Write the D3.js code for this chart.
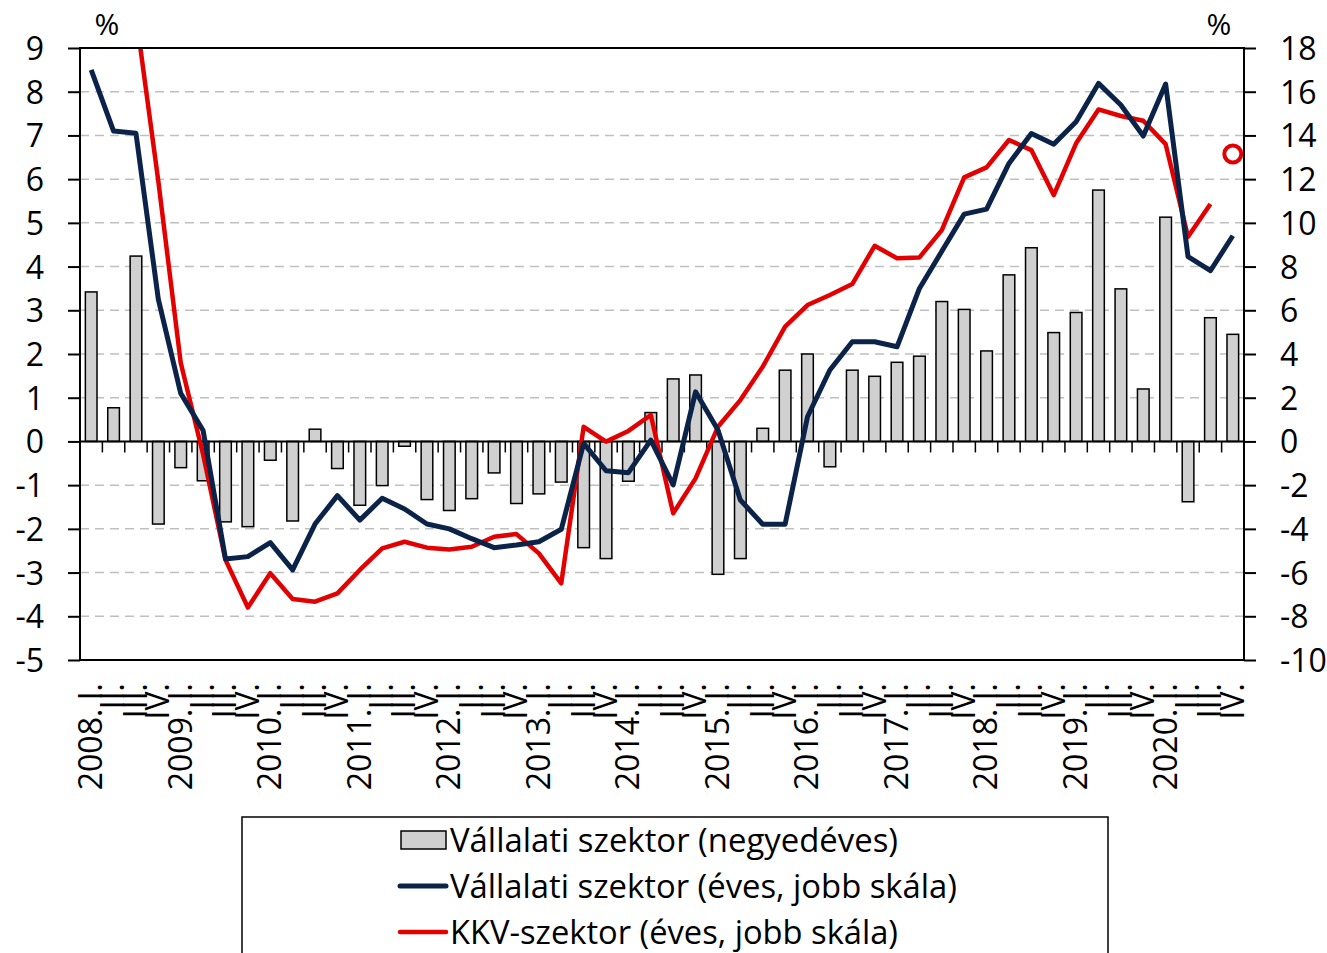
<!DOCTYPE html>
<html>
<head>
<meta charset="utf-8">
<script src="https://cdn.jsdelivr.net/npm/d3@7"></script>
<style>
  body { margin: 0; background: #fff; }
  text { font-family: "Open Sans", "Noto Sans", sans-serif; fill: #000; }
</style>
</head>
<body>
<svg id="chart" width="1327" height="953"></svg>
<script>
const years = d3.range(2008, 2021);
const quarterNames = ["I.", "II.", "III.", "IV."];

// Vállalati szektor (negyedéves), bal skála
const vallalatiNegyedeves = [3.42, 0.77, 4.24, -1.89,
  -0.6, -0.9, -1.84, -1.95,
  -0.43, -1.82, 0.28, -0.62,
  -1.46, -1.01, -0.11, -1.33,
  -1.58, -1.31, -0.72, -1.42,
  -1.2, -0.93, -2.43, -2.68,
  -0.91, 0.66, 1.43, 1.52,
  -3.04, -2.68, 0.3, 1.63,
  2.0, -0.58, 1.63, 1.49,
  1.81, 1.95, 3.2, 3.02,
  2.07, 3.81, 4.43, 2.49,
  2.95, 5.75, 3.49, 1.2,
  5.13, -1.38, 2.83, 2.45];

// Vállalati szektor (éves), jobb skála
const vallalatiEves = [17.0, 14.2, 14.1, 6.5,
  2.2, 0.5, -5.38, -5.27,
  -4.63, -5.88, -3.78, -2.48,
  -3.6, -2.6, -3.09, -3.78,
  -4.0, -4.45, -4.86, -4.74,
  -4.59, -4.02, -0.09, -1.34,
  -1.43, 0.06, -1.99, 2.27,
  0.52, -2.68, -3.79, -3.79,
  1.13, 3.27, 4.56, 4.56,
  4.33, 7.0, 8.7, 10.4,
  10.63, 12.72, 14.09, 13.6,
  14.63, 16.38, 15.39, 13.97,
  16.35, 8.45, 7.81, 9.41];

// KKV-szektor (éves), jobb skála
const kkvEves = [null, null, 19.5, 11.9,
  3.6, -0.6, -5.42, -7.6,
  -6.03, -7.21, -7.33, -6.95,
  -5.88, -4.89, -4.59, -4.86,
  -4.94, -4.82, -4.36, -4.24,
  -5.12, -6.49, 0.67, -0.01,
  0.48, 1.21, -3.29, -1.69,
  0.67, 1.89, 3.42, 5.25,
  6.24, 6.7, 7.2, 8.95,
  8.38, 8.42, 9.67, 12.08,
  12.54, 13.79, 13.33, 11.27,
  13.64, 15.19, 14.89, 14.67,
  13.6, 9.36, 10.86, null];

// KKV-szektor, 2020. IV. (külön jelölő)
const kkvPont = [{ idx: 51, ertek: 13.15 }];

const leftTicks = d3.range(-5, 10, 1);
const rightTicks = d3.range(-10, 19, 2);
const legendLabels = ["Vállalati szektor (negyedéves)", "Vállalati szektor (éves, jobb skála)", "KKV-szektor (éves, jobb skála)"];

const labels = [];
years.forEach(y => quarterNames.forEach((q, k) => labels.push(k === 0 ? y + ". " + q : q)));

const svg = d3.select("#chart");
const m = { left: 80, right: 1244, top: 48, bottom: 660 };

const x = d3.scaleBand().domain(d3.range(labels.length)).range([m.left, m.right])
  .paddingInner(0.48).paddingOuter(0.24);
const yL = d3.scaleLinear().domain([-5, 9]).range([m.bottom, m.top]);
const yR = d3.scaleLinear().domain([-10, 18]).range([m.bottom, m.top]);
const cx = i => x(i) + x.bandwidth() / 2;
const step = x.step();

svg.append("defs").append("clipPath").attr("id", "plotclip")
  .append("rect").attr("x", m.left).attr("y", m.top)
  .attr("width", m.right - m.left).attr("height", m.bottom - m.top);

// gridlines
svg.append("g").selectAll("line").data(leftTicks.filter(t => t !== 0 && t !== -5 && t !== 9)).join("line")
  .attr("x1", m.left).attr("x2", m.right)
  .attr("y1", d => yL(d)).attr("y2", d => yL(d))
  .attr("stroke", "#bfbfbf").attr("stroke-width", 1.5).attr("stroke-dasharray", "9,6");

// bars
svg.append("g").selectAll("rect").data(vallalatiNegyedeves).join("rect")
  .attr("x", (d, i) => x(i))
  .attr("width", x.bandwidth())
  .attr("y", d => yL(Math.max(0, d)))
  .attr("height", d => Math.abs(yL(d) - yL(0)))
  .attr("fill", "#d0d0d0").attr("stroke", "#000").attr("stroke-width", 1.5);

// zero line and category ticks
const y0 = yL(0);
svg.append("line").attr("x1", m.left).attr("x2", m.right).attr("y1", y0).attr("y2", y0)
  .attr("stroke", "#000").attr("stroke-width", 2);
svg.append("g").selectAll("line").data(d3.range(1, labels.length)).join("line")
  .attr("x1", k => m.left + step * k).attr("x2", k => m.left + step * k)
  .attr("y1", y0).attr("y2", y0 + 11)
  .attr("stroke", "#000").attr("stroke-width", 1.5);

// lines
const lineR = d3.line().defined(d => d != null).x((d, i) => cx(i)).y(d => yR(d));
const lines = svg.append("g").attr("clip-path", "url(#plotclip)");
lines.append("path").datum(kkvEves).attr("d", lineR)
  .attr("fill", "none").attr("stroke", "#e30000").attr("stroke-width", 4.5).attr("stroke-linejoin", "round");
lines.append("path").datum(vallalatiEves).attr("d", lineR)
  .attr("fill", "none").attr("stroke", "#0c2349").attr("stroke-width", 5).attr("stroke-linejoin", "round");
svg.append("g").selectAll("circle").data(kkvPont).join("circle")
  .attr("cx", d => cx(d.idx)).attr("cy", d => yR(d.ertek)).attr("r", 8.5)
  .attr("fill", "#fff").attr("stroke", "#e30000").attr("stroke-width", 4);

// frame
svg.append("rect").attr("x", m.left).attr("y", m.top)
  .attr("width", m.right - m.left).attr("height", m.bottom - m.top)
  .attr("fill", "none").attr("stroke", "#000").attr("stroke-width", 2);

// axes
const fmt = d => String(d);
const axL = svg.append("g").attr("transform", `translate(${m.left},0)`)
  .call(d3.axisLeft(yL).tickValues(leftTicks).tickSize(12).tickPadding(24).tickFormat(fmt));
const axR = svg.append("g").attr("transform", `translate(${m.right},0)`)
  .call(d3.axisRight(yR).tickValues(rightTicks).tickSize(12).tickPadding(24).tickFormat(fmt));
[axL, axR].forEach(a => {
  a.select(".domain").remove();
  a.selectAll(".tick line").attr("stroke", "#000").attr("stroke-width", 2);
  a.selectAll(".tick text").style("font-size", "32px").attr("dy", "0.36em");
});

const axX = svg.append("g").attr("transform", `translate(0,${m.bottom})`)
  .call(d3.axisBottom(x).tickSize(0).tickFormat(i => labels[i]));
axX.select(".domain").remove();
axX.selectAll(".tick text")
  .attr("x", 0).attr("y", 0).attr("dy", "0.34em")
  .attr("transform", "translate(0,23) rotate(-90)")
  .style("text-anchor", "end").style("font-size", "32px");

svg.append("text").attr("x", 107).attr("y", 35).attr("text-anchor", "middle").style("font-size", "30px").text("%");
svg.append("text").attr("x", 1219).attr("y", 35).attr("text-anchor", "middle").style("font-size", "30px").text("%");

// legend
svg.append("rect").attr("x", 242).attr("y", 817).attr("width", 866).attr("height", 160)
  .attr("fill", "#fff").attr("stroke", "#000").attr("stroke-width", 1.5);
const legRows = [840, 886, 932];
const legWidths = [448, 507, 448];
svg.append("rect").attr("x", 401).attr("y", legRows[0] - 9).attr("width", 45).attr("height", 18)
  .attr("fill", "#d0d0d0").attr("stroke", "#000").attr("stroke-width", 1.5);
svg.append("line").attr("x1", 400).attr("x2", 446).attr("y1", legRows[1]).attr("y2", legRows[1])
  .attr("stroke", "#0c2349").attr("stroke-width", 5).attr("stroke-linecap", "round");
svg.append("line").attr("x1", 400).attr("x2", 446).attr("y1", legRows[2]).attr("y2", legRows[2])
  .attr("stroke", "#e30000").attr("stroke-width", 4.5).attr("stroke-linecap", "round");
svg.append("g").selectAll("text").data(legendLabels).join("text")
  .attr("x", 450).attr("y", (d, i) => legRows[i]).attr("dy", "0.36em")
  .attr("textLength", (d, i) => legWidths[i]).attr("lengthAdjust", "spacingAndGlyphs")
  .style("font-family", "'Liberation Sans Narrow', 'Open Sans', sans-serif")
  .style("font-size", "32px").text(d => d);
</script>
</body>
</html>
